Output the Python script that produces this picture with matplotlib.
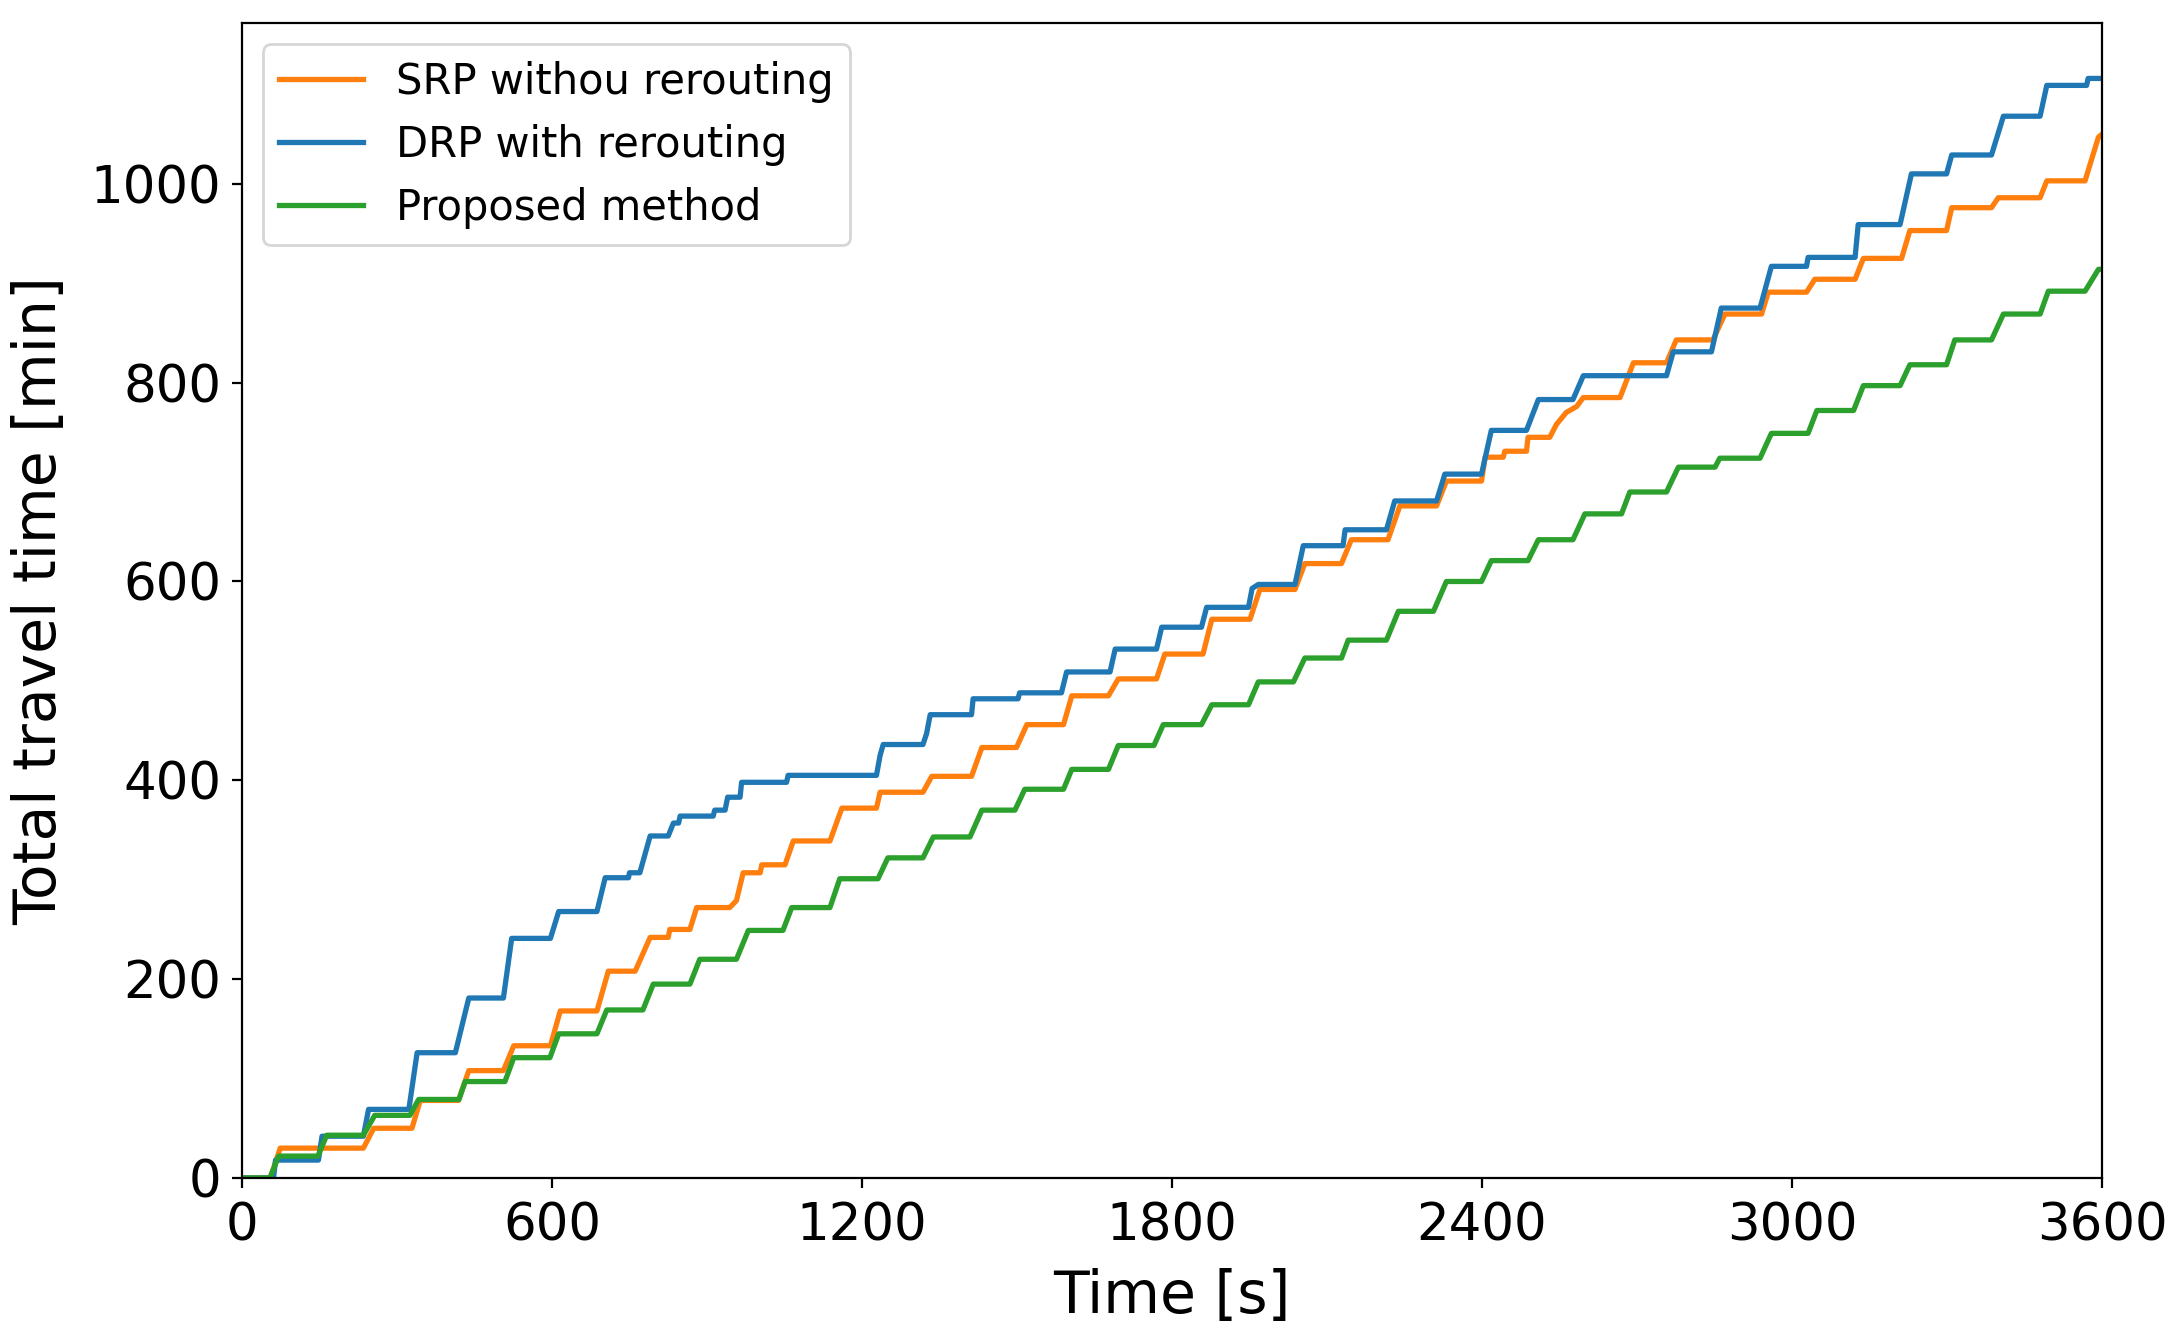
import matplotlib
matplotlib.use("Agg")
import matplotlib.pyplot as plt

# corner points (time [s], total travel time [min])
srp_t = [0, 55, 74, 235, 255, 329, 345, 419, 439, 506, 526, 597, 616, 687, 709, 761,
         790, 825, 828, 867, 880, 944, 957, 970, 1003, 1006, 1051, 1067, 1138, 1161,
         1228, 1235, 1318, 1335, 1412, 1432, 1499, 1519, 1590, 1606, 1677, 1696, 1770,
         1786, 1860, 1877, 1951, 1970, 2038, 2057, 2128, 2147, 2218, 2241, 2312, 2331,
         2399, 2406, 2441, 2444, 2486, 2489, 2531, 2538, 2544, 2563, 2583, 2596, 2667,
         2693, 2757, 2776, 2847, 2870, 2941, 2954, 3028, 3044, 3122, 3138, 3212, 3228,
         3299, 3309, 3386, 3399, 3480, 3493, 3567, 3593, 3600]
srp_v = [0, 0, 30, 30, 50, 50, 78, 78, 108, 108, 133, 133, 168, 168, 208, 208,
         242, 242, 250, 250, 272, 272, 279, 307, 307, 315, 315, 339, 339, 372,
         372, 388, 388, 404, 404, 433, 433, 456, 456, 485, 485, 502, 502,
         527, 527, 562, 562, 592, 592, 618, 618, 642, 642, 676, 676, 701,
         701, 725, 725, 731, 731, 745, 745, 752, 758, 770, 776, 785, 785,
         820, 820, 843, 843, 869, 869, 891, 891, 904, 904, 925, 925, 953,
         953, 976, 976, 986, 986, 1003, 1003, 1047, 1050]

drp_t = [0, 61, 65, 148, 155, 235, 245, 323, 339, 413, 439, 506, 522, 597, 613, 687,
         703, 748, 750, 770, 790, 825, 835, 845, 848, 912, 915, 935, 940, 964, 967,
         1054, 1057, 1228, 1235, 1241, 1318, 1325, 1332, 1412, 1415, 1502, 1505, 1586,
         1596, 1680, 1690, 1770, 1780, 1857, 1867, 1948, 1955, 1967, 2038, 2054, 2131,
         2135, 2215, 2231, 2312, 2328, 2399, 2418, 2486, 2509, 2576, 2596, 2757, 2770,
         2844, 2863, 2938, 2960, 3028, 3031, 3122, 3128, 3209, 3231, 3299, 3309, 3386,
         3409, 3480, 3493, 3570, 3573, 3600]
drp_v = [0, 0, 18, 18, 42, 42, 69, 69, 126, 126, 181, 181, 241, 241, 268, 268,
         302, 302, 307, 307, 344, 344, 357, 357, 364, 364, 370, 370, 383, 383, 398,
         398, 405, 405, 425, 436, 436, 447, 466, 466, 482, 482, 488, 488,
         509, 509, 532, 532, 554, 554, 574, 574, 593, 597, 597, 636, 636,
         652, 652, 681, 681, 708, 708, 752, 752, 783, 783, 807, 807, 831,
         831, 875, 875, 917, 917, 926, 926, 959, 959, 1010, 1010, 1029, 1029,
         1068, 1068, 1099, 1099, 1106, 1106]

prop_t = [0, 54, 71, 147, 164, 235, 257, 325, 342, 420, 432, 509, 526, 596, 613, 687,
          706, 776, 796, 867, 886, 957, 980, 1047, 1064, 1138, 1157, 1231, 1250, 1318,
          1338, 1409, 1432, 1496, 1515, 1590, 1606, 1677, 1696, 1765, 1783, 1857, 1877,
          1948, 1967, 2035, 2057, 2128, 2141, 2215, 2238, 2306, 2331, 2399, 2418, 2489,
          2509, 2576, 2599, 2670, 2686, 2757, 2780, 2851, 2860, 2938, 2960, 3031, 3048,
          3119, 3138, 3209, 3228, 3299, 3315, 3386, 3409, 3480, 3496, 3567, 3593, 3600]
prop_v = [0, 0, 22, 22, 43, 43, 63, 63, 79, 79, 97, 97, 121, 121, 145, 145,
          169, 169, 195, 195, 220, 220, 249, 249, 272, 272, 301, 301, 322, 322,
          343, 343, 370, 370, 391, 391, 411, 411, 435, 435, 456, 456, 476,
          476, 499, 499, 523, 523, 541, 541, 570, 570, 600, 600, 621, 621,
          642, 642, 668, 668, 690, 690, 715, 715, 724, 724, 749, 749, 772,
          772, 797, 797, 818, 818, 843, 843, 869, 869, 892, 892, 914, 914]

x_ticks = [0, 600, 1200, 1800, 2400, 3000, 3600]
y_ticks = [0, 200, 400, 600, 800, 1000]

fig = plt.figure(figsize=(10.85, 6.665), dpi=200)
ax = fig.add_axes([0.1115, 0.1163, 0.8572, 0.8661])

ax.plot(srp_t, srp_v, color='tab:orange', linewidth=1.9, label='SRP withou rerouting')
ax.plot(drp_t, drp_v, color='tab:blue', linewidth=1.9, label='DRP with rerouting')
ax.plot(prop_t, prop_v, color='tab:green', linewidth=1.9, label='Proposed method')

ax.set_xlim(0, 3600)
ax.set_ylim(bottom=0)
ax.set_xticks(x_ticks)
ax.set_yticks(y_ticks)
ax.tick_params(labelsize=18.5)
ax.tick_params(axis='x', pad=5)
ax.tick_params(axis='y', pad=4)
ax.set_xlabel('Time [s]', fontsize=21, labelpad=6)
ax.set_ylabel('Total travel time [min]', fontsize=21, labelpad=8)
ax.legend(loc='upper left', fontsize=15)

fig.savefig('out.png', dpi=200)
